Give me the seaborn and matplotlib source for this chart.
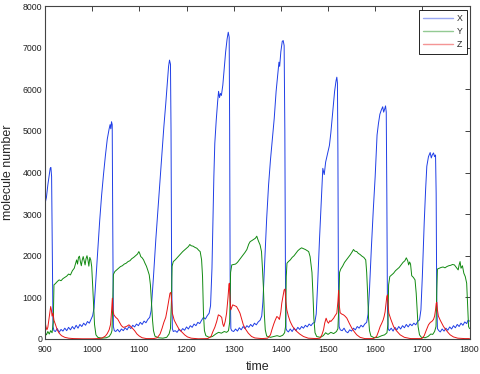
import numpy as np
import pandas as pd
import matplotlib
matplotlib.use("Agg")
import matplotlib.pyplot as plt
import seaborn as sns

# X (blue), (time, molecule number)
x_time = [900, 903, 906, 909, 911, 912.5, 914, 915.5, 917, 919,
          922, 926, 930, 934, 938, 942, 946, 950, 954, 958, 962, 966, 970, 974, 978, 982, 986, 990, 994, 998, 1001, 1004,
          1008, 1012, 1016, 1020, 1024, 1028, 1032, 1036, 1038, 1039.5, 1041, 1042.5, 1043.5, 1045, 1047,
          1050, 1054, 1058, 1062, 1066, 1070, 1074, 1078, 1082, 1086, 1090, 1094, 1098, 1102, 1106, 1110, 1114, 1118, 1122, 1125,
          1130, 1135, 1140, 1144, 1148, 1152, 1156, 1160, 1162, 1164, 1166, 1167.2, 1168.5, 1170, 1172,
          1176, 1180, 1184, 1188, 1192, 1196, 1200, 1204, 1208, 1212, 1216, 1220, 1224, 1228, 1232, 1236, 1240, 1244, 1248, 1251,
          1254, 1256, 1258, 1260, 1263, 1266, 1268, 1270, 1272, 1274, 1277, 1280, 1283, 1286, 1288.5, 1290.5, 1291.5, 1292.5, 1294, 1296,
          1300, 1304, 1308, 1312, 1316, 1320, 1324, 1328, 1332, 1336, 1340, 1344, 1348, 1352, 1356, 1359.5,
          1362, 1366, 1370, 1374, 1378, 1382, 1386, 1390, 1393, 1396, 1397.5, 1400, 1403, 1405, 1407, 1408.5, 1409.8, 1411, 1413,
          1416, 1420, 1424, 1428, 1432, 1436, 1440, 1444, 1448, 1452, 1456, 1460, 1464, 1468, 1472, 1475,
          1478, 1482, 1486, 1489, 1491, 1492, 1495, 1499, 1503, 1506, 1510, 1514, 1517, 1518.7, 1520, 1521, 1522, 1523.5, 1526,
          1530, 1534, 1538, 1542, 1546, 1550, 1554, 1558, 1562, 1566, 1570, 1574, 1578, 1582, 1585,
          1588, 1592, 1596, 1600, 1604, 1607, 1610, 1613, 1616, 1618, 1620, 1622, 1623.5, 1624.7, 1626, 1627.5, 1630,
          1634, 1638, 1642, 1646, 1650, 1654, 1658, 1662, 1666, 1670, 1674, 1678, 1682, 1686, 1690, 1694, 1697,
          1700, 1704, 1707, 1709.5, 1713, 1716.6, 1719, 1721, 1723.7, 1726, 1728, 1729.3, 1730.5, 1732, 1735,
          1738, 1742, 1746, 1750, 1754, 1758, 1762, 1766, 1770, 1774, 1778, 1782, 1786, 1790, 1794, 1797, 1800]
x_vals = [3250, 3400, 3700, 3950, 4100, 4120, 3900, 2000, 300, 200,
          180, 250, 160, 230, 190, 260, 200, 280, 220, 300, 240, 330, 260, 350, 300, 380, 330, 420, 380, 480, 560, 750,
          1450, 2150, 2850, 3450, 3950, 4400, 4800, 5050, 5150, 5050, 5220, 5150, 3000, 300, 200,
          180, 230, 170, 240, 200, 270, 220, 300, 250, 330, 290, 360, 320, 400, 350, 430, 390, 470, 520, 680,
          1500, 2400, 3200, 3850, 4500, 5100, 5650, 6250, 6550, 6700, 6600, 5000, 1500, 250, 180,
          200, 160, 230, 190, 250, 210, 290, 240, 320, 280, 360, 320, 400, 370, 450, 520, 480, 560, 620, 800,
          1700, 2800, 3900, 4700, 5250, 5700, 5950, 5800, 5900, 5850, 6100, 6500, 6900, 7200, 7370, 7250, 5000, 1500, 250, 200,
          180, 240, 190, 270, 220, 300, 250, 320, 280, 350, 300, 380, 340, 410, 450, 550,
          900, 1900, 2900, 3700, 4300, 4800, 5300, 5950, 6300, 6650, 6550, 6900, 7150, 7170, 7050, 5000, 1500, 250, 200,
          170, 240, 180, 260, 200, 280, 230, 300, 260, 330, 290, 360, 320, 380, 400, 600,
          1300, 2400, 3400, 4100, 4000, 3950, 4250, 4450, 4650, 4950, 5450, 5950, 6200, 6290, 6150, 4500, 1500, 300, 220,
          200, 260, 180, 150, 220, 190, 260, 220, 300, 260, 330, 290, 360, 400, 600,
          1200, 2200, 3100, 3900, 4900, 5180, 5400, 5500, 5580, 5450, 5520, 5600, 5450, 3500, 800, 250, 200,
          260, 190, 280, 220, 300, 240, 320, 270, 350, 290, 360, 320, 380, 340, 420, 460, 700,
          1500, 2800, 3600, 4150, 4380, 4480, 4350, 4420, 4470, 4380, 4420, 3500, 1000, 250, 200,
          170, 240, 190, 260, 210, 290, 240, 320, 270, 350, 300, 380, 330, 410, 370, 450, 430]

# Y (green)
y_time = [900, 903, 906, 909, 912, 915, 917.5, 919, 922, 926, 930, 934, 938, 942, 946, 950, 954, 958, 962, 965, 967, 969, 971,
          973, 975, 977, 979, 981, 983, 985, 987, 989, 991, 993, 995, 997, 999, 1001, 1003, 1005, 1008, 1012, 1020, 1030, 1036,
          1040, 1042, 1043.5, 1045,
          1048, 1052, 1056, 1060, 1064, 1068, 1072, 1076, 1080, 1084, 1088, 1092, 1096, 1099, 1101, 1103, 1106, 1109, 1112, 1115,
          1118, 1121, 1123.5, 1126, 1128, 1130, 1133, 1140, 1150, 1158, 1163, 1166, 1168, 1169.5,
          1172, 1176, 1180, 1184, 1188, 1192, 1196, 1200, 1204, 1207, 1210, 1214, 1218, 1222, 1226, 1229, 1232, 1234, 1236, 1238,
          1241, 1248, 1255, 1262, 1268, 1274, 1280, 1285, 1289, 1291.5, 1293.5, 1296,
          1300, 1304, 1308, 1312, 1316, 1320, 1324, 1328, 1332, 1335, 1338, 1342, 1346, 1349, 1351, 1353, 1356, 1359, 1361, 1363,
          1365, 1367, 1370, 1378, 1385, 1392, 1398, 1404, 1408, 1410, 1411.5, 1413,
          1416, 1420, 1424, 1428, 1432, 1436, 1440, 1444, 1448, 1452, 1456, 1459, 1462, 1464, 1466, 1468, 1470, 1472.5, 1476,
          1484, 1490, 1495, 1500, 1506, 1512, 1518, 1521, 1523, 1524.5,
          1527, 1531, 1535, 1539, 1543, 1547, 1551, 1554, 1557, 1561, 1564, 1568, 1572, 1576, 1580, 1582, 1584, 1586, 1588, 1591,
          1598, 1606, 1614, 1620, 1625, 1627, 1628.5, 1631,
          1635, 1639, 1643, 1647, 1651, 1655, 1659, 1663, 1666, 1669, 1671, 1673, 1675, 1677.5, 1681, 1684.5, 1687, 1689, 1691,
          1694, 1698, 1706, 1712, 1718, 1722, 1726, 1729, 1730.7, 1732,
          1736, 1740, 1744, 1748, 1752, 1756, 1760, 1764, 1768, 1772, 1776, 1778, 1780, 1782, 1785, 1788, 1791, 1794, 1796, 1798, 1800]
y_vals = [150, 100, 180, 120, 200, 150, 400, 1300, 1330, 1380, 1420, 1400, 1450, 1480, 1510, 1560, 1540, 1640, 1700, 1820, 1900, 1800, 1960,
          1990, 1860, 1760, 1900, 1980, 1880, 1780, 1930, 2000, 1900, 1750, 1960, 1900, 1740, 1300, 800, 350, 100, 40, 20, 30, 60,
          130, 200, 800, 1550,
          1620, 1660, 1700, 1740, 1760, 1800, 1820, 1860, 1880, 1930, 1960, 2000, 2040, 2100, 2050, 1980, 1950, 1900, 1820, 1750,
          1650, 1540, 1300, 850, 450, 200, 70, 30, 20, 40, 120, 250, 900, 1750,
          1860, 1900, 1950, 2000, 2050, 2100, 2140, 2180, 2220, 2270, 2240, 2230, 2200, 2180, 2130, 2100, 1900, 1500, 600, 200,
          80, 40, 60, 120, 160, 140, 180, 160, 200, 400, 1600, 1780,
          1790, 1800, 1840, 1900, 1960, 2020, 2080, 2150, 2280, 2340, 2360, 2390, 2420, 2470, 2400, 2340, 2260, 2100, 1700, 1250,
          600, 220, 70, 40, 60, 80, 60, 90, 150, 300, 1500, 1820,
          1860, 1900, 1960, 2000, 2060, 2120, 2160, 2190, 2170, 2150, 2120, 2100, 1980, 1800, 1600, 1100, 500, 150, 60,
          40, 80, 150, 110, 160, 130, 180, 250, 800, 1600,
          1680, 1750, 1840, 1900, 1960, 2020, 2090, 2150, 2110, 2100, 2060, 2030, 1990, 1960, 1900, 1600, 1100, 500, 200, 70,
          30, 40, 80, 100, 150, 350, 1300, 1500,
          1540, 1580, 1640, 1680, 1720, 1780, 1840, 1880, 1950, 1880, 1780, 1850, 1800, 1520, 1480, 1420, 1100, 700, 300,
          100, 40, 30, 60, 120, 110, 180, 300, 1200, 1680,
          1700, 1720, 1730, 1710, 1740, 1760, 1770, 1790, 1780, 1720, 1660, 1780, 1860, 1700, 1760, 1580, 1500, 1340, 800, 300, 250]

# Z (red)
z_time = [900, 902, 904, 906, 908, 910, 912, 913.5, 915, 917, 919, 922, 926, 930, 935, 942, 950, 960, 980, 1000,
          1015, 1022, 1028, 1032, 1036, 1039, 1041, 1042.8, 1044, 1046, 1050, 1054, 1058, 1062, 1066, 1070, 1074, 1078, 1082,
          1086, 1090, 1095, 1100, 1106, 1115, 1130,
          1138, 1144, 1148, 1152, 1156, 1159, 1162, 1165, 1167, 1168.5, 1170, 1174, 1179, 1184, 1190, 1196, 1202, 1210, 1225,
          1245, 1252, 1256, 1260, 1264, 1267.5, 1271, 1274.6, 1277, 1279, 1282, 1285, 1288, 1290, 1290.8, 1292.5, 1294, 1298,
          1302, 1306, 1310, 1313.4, 1317, 1320.5, 1325, 1331, 1338, 1345, 1360,
          1372, 1378, 1381, 1385, 1388, 1391.5, 1394, 1397, 1400, 1402, 1405, 1407, 1409, 1410.5, 1412.7, 1416, 1419.8, 1425,
          1430, 1434, 1440, 1448, 1458, 1475,
          1483, 1487, 1490.5, 1493, 1496, 1498.5, 1501, 1504, 1506, 1509, 1512, 1515, 1518.7, 1521, 1522.5, 1524, 1525.8, 1529,
          1532.9, 1536, 1540, 1545, 1550.5, 1556, 1561, 1568, 1578, 1596,
          1603, 1607, 1610.6, 1614, 1617, 1619, 1621, 1623, 1624.7, 1626, 1627.5, 1629, 1633, 1639, 1645, 1653, 1662, 1675, 1699,
          1704, 1708, 1713, 1717, 1720, 1723.7, 1726, 1728, 1729.5, 1730.7, 1732, 1734, 1738, 1744.9, 1750, 1755, 1759, 1766,
          1775, 1790, 1800]
z_vals = [420, 300, 220, 280, 450, 600, 780, 700, 550, 620, 450, 350, 220, 140, 80, 40, 20, 10, 5, 5,
          10, 30, 70, 130, 220, 350, 650, 980, 700, 580, 520, 480, 400, 320, 280, 290, 310, 340, 300,
          250, 200, 120, 70, 30, 10, 10,
          30, 120, 250, 400, 520, 700, 900, 1100, 1120, 900, 620, 450, 340, 240, 170, 100, 50, 20, 5,
          10, 60, 180, 280, 420, 580, 560, 520, 360, 300, 420, 620, 1000, 1300, 1340, 900, 700, 820,
          800, 780, 700, 620, 480, 340, 240, 140, 60, 25, 10,
          20, 100, 220, 360, 450, 540, 520, 470, 650, 860, 1050, 1180, 1200, 900, 700, 550, 420, 300,
          230, 180, 120, 60, 20, 10,
          20, 100, 220, 380, 500, 420, 380, 440, 420, 460, 500, 560, 620, 900, 1170, 800, 630, 600,
          580, 550, 500, 380, 260, 170, 100, 40, 10, 10,
          60, 180, 300, 380, 460, 540, 650, 850, 1020, 1060, 800, 620, 480, 300, 200, 100, 40, 10, 10,
          80, 200, 340, 400, 420, 470, 550, 700, 860, 880, 700, 550, 450, 300, 220, 150, 100, 50,
          20, 10, 10]

species = ["X", "Y", "Z"]
colors = {"X": "#1f3ee6", "Y": "#118a11", "Z": "#e81414"}

df = pd.concat([
    pd.DataFrame({"time": x_time, "value": x_vals, "species": "X"}),
    pd.DataFrame({"time": y_time, "value": y_vals, "species": "Y"}),
    pd.DataFrame({"time": z_time, "value": z_vals, "species": "Z"}),
], ignore_index=True)

sns.set_style("white")
plt.rcParams["font.family"] = ["Liberation Sans", "DejaVu Sans"]

fig = plt.figure(figsize=(4.8, 3.74), dpi=100)
ax = fig.add_axes([45 / 480, 35 / 374, 424.5 / 480, 333 / 374])

sns.lineplot(data=df, x="time", y="value", hue="species", hue_order=species,
             palette=colors, estimator=None, sort=False, linewidth=0.7, ax=ax)

ax.set_xlim(900, 1800)
ax.set_ylim(0, 8000)
ax.set_xticks(np.arange(900, 1801, 100))
ax.set_yticks(np.arange(0, 8001, 1000))
ax.tick_params(direction="in", top=True, right=True, length=3.5, width=0.6,
               labelsize=6.3, colors="#222222", pad=2)
ax.tick_params(axis="x", pad=4)
for s in ax.spines.values():
    s.set_color("#444444")
    s.set_linewidth(0.8)

ax.set_xlabel("time", fontsize=9, labelpad=5)
ax.set_ylabel("molecule number", fontsize=9, labelpad=6)

handles, labels = ax.get_legend_handles_labels()
leg = ax.legend(handles, labels, loc="upper right", bbox_to_anchor=(0.9934, 0.988),
                borderaxespad=0, fontsize=6.3, frameon=True, fancybox=False,
                framealpha=1, edgecolor="black", handlelength=3.4,
                handletextpad=0.4, borderpad=0.5, labelspacing=0.45)
leg.get_frame().set_linewidth(0.6)
for line in leg.get_lines():
    line.set_linewidth(1.0)
    line.set_alpha(0.45)

fig.savefig("out.png", dpi=100)
